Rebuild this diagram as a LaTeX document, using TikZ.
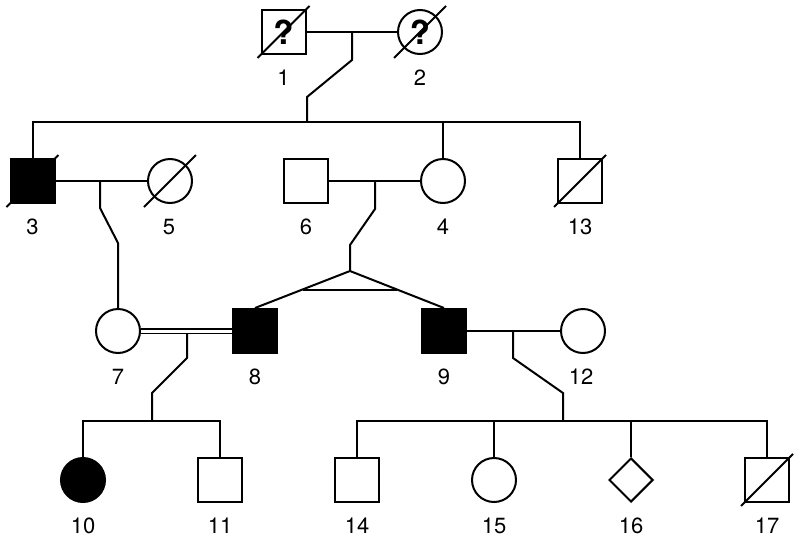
\documentclass[tikz,border=0pt]{standalone}
\usepackage{fontspec}
\setmainfont{TeX Gyre Heros}
\usetikzlibrary{shapes.geometric,calc}
\begin{document}
\begin{tikzpicture}[x=1pt,y=-1pt,line width=2pt,line join=miter,
  male/.style={draw,rectangle,minimum size=44pt,inner sep=0pt},
  female/.style={draw,circle,minimum size=44pt,inner sep=0pt},
  unknownsex/.style={draw,diamond,minimum width=44pt,minimum height=44pt,inner sep=0pt},
  affected/.style={fill=black},
  lbl/.style={font=\fontsize{22}{22}\selectfont,inner sep=0pt},
  qmark/.style={font=\fontsize{33}{33}\selectfont\bfseries}]
\useasboundingbox (0,0) rectangle (800,541);
% Generation I
\node[male,qmark] (n1) at (283.5,32) {?};
\node[female,qmark] (n2) at (420,32) {?};
\node[lbl] (l1) at (283.5,78) {1};
\node[lbl] (l2) at (420,78) {2};
% Generation II
\node[male,affected] (n3) at (32.5,181) {};
\node[female] (n5) at (170,181) {};
\node[male] (n6) at (306,181) {};
\node[female] (n4) at (443,181) {};
\node[male] (n13) at (580,181) {};
\node[lbl] (l3) at (32.5,227) {3};
\node[lbl] (l5) at (169,227) {5};
\node[lbl] (l6) at (306,227) {6};
\node[lbl] (l4) at (443,227) {4};
\node[lbl] (l13) at (580,227) {13};
% Generation III
\node[female] (n7) at (118,331) {};
\node[male,affected] (n8) at (255,331) {};
\node[male,affected] (n9) at (444,331) {};
\node[female] (n12) at (583,331) {};
\node[lbl] (l7) at (118,377) {7};
\node[lbl] (l8) at (255,377) {8};
\node[lbl] (l9) at (444,377) {9};
\node[lbl] (l12) at (581,377) {12};
% Generation IV
\node[female,affected] (n10) at (83,480) {};
\node[male] (n11) at (220,480) {};
\node[male] (n14) at (357,480) {};
\node[female] (n15) at (494,480) {};
\node[unknownsex] (n16) at (631,480) {};
\node[male] (n17) at (767,480) {};
\node[lbl] (l10) at (83,526) {10};
\node[lbl] (l11) at (220,526) {11};
\node[lbl] (l14) at (357,526) {14};
\node[lbl] (l15) at (494,526) {15};
\node[lbl] (l16) at (631,526) {16};
\node[lbl] (l17) at (767,526) {17};
% deceased slashes
\foreach \n in {n1,n2,n3,n5,n13,n17}
  \draw ([shift={(-26,26)}]\n.center) -- ([shift={(26,-26)}]\n.center);
% coordinates
\coordinate (m12) at (352,32);
\coordinate (a12) at (352,60);
\coordinate (b12) at (307,97);
\coordinate (sib2) at (307,122);
\coordinate (m35) at (100,181);
\coordinate (a35) at (100,208);
\coordinate (b35) at (118,243);
\coordinate (m64) at (375,181);
\coordinate (a64) at (375,209);
\coordinate (b64) at (350,245);
\coordinate (tw) at (350,271);
\coordinate (m78) at (187,333);
\coordinate (a78) at (187,358);
\coordinate (b78) at (152,393);
\coordinate (sibL) at (152,421);
\coordinate (m912) at (513,331);
\coordinate (a912) at (513,358);
\coordinate (b912) at (563,393);
\coordinate (sibR) at (563,421);
% Generation I connections
\draw (n1.east) -- (n2.west);
\draw (m12) -- (a12) -- (b12) -- (sib2);
\draw (n3.north) |- (sib2) -| (n13.north);
\draw (sib2) -| (n4.north);
% Generation II connections
\draw (n3.east) -- (n5.west);
\draw (m35) -- (a35) -- (b35) -- (n7.north);
\draw (n6.east) -- (n4.west);
\draw (m64) -- (a64) -- (b64) -- (tw);
\draw (n8.north) -- (tw) -- (n9.north);
\draw ($(tw)!0.5!(n8.north)$) -- ($(tw)!0.5!(n9.north)$);
% Generation III connections
\draw[line width=1.4pt] ([yshift=-2.2pt]n7.east) -- ([yshift=-2.2pt]n8.west);
\draw[line width=1.4pt] ([yshift=2.2pt]n7.east) -- ([yshift=2.2pt]n8.west);
\draw (m78) -- (a78) -- (b78) -- (sibL);
\draw (n10.north) |- (sibL) -| (n11.north);
\draw (n9.east) -- (n12.west);
\draw (m912) -- (a912) -- (b912) -- (sibR);
\draw (n14.north) |- (sibR) -| (n17.north);
\draw (sibR) -| (n15.north);
\draw (sibR) -| (n16.north);
\end{tikzpicture}
\end{document}
